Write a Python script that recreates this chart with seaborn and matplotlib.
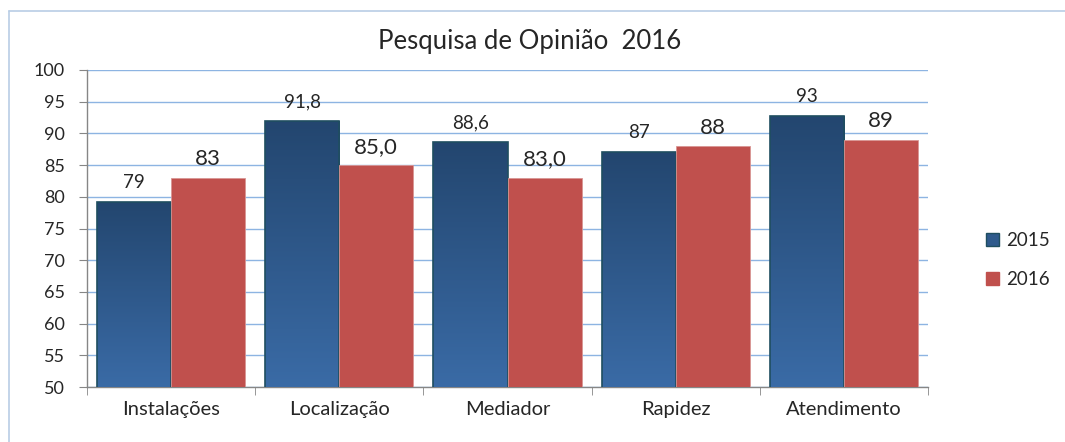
import numpy as np
import pandas as pd
import matplotlib
matplotlib.use("Agg")
import matplotlib.pyplot as plt
from matplotlib.patches import Patch
from matplotlib.lines import Line2D
from matplotlib.colors import LinearSegmentedColormap
import seaborn as sns

# data
categorias = ["Instalações", "Localização", "Mediador", "Rapidez", "Atendimento"]
valores_2015 = [79.2, 91.95, 88.6, 87.0, 92.8]
valores_2016 = [83.0, 85.0, 83.0, 88.0, 89.0]
rotulos_2015 = ["79", "91,8", "88,6", "87", "93"]
rotulos_2016 = ["83", "85,0", "83,0", "88", "89"]
anos = ["2015", "2016"]

df = pd.DataFrame({
    "categoria": categorias * 2,
    "valor": valores_2015 + valores_2016,
    "ano": [anos[0]] * 5 + [anos[1]] * 5,
})

sns.set_style("white")
plt.rcParams["font.family"] = ["Lato", "DejaVu Sans"]

fig = plt.figure(figsize=(10.65, 4.42), dpi=100)
ax = fig.add_axes([87 / 1065, 1 - 387 / 442, (928 - 87) / 1065, (387 - 70) / 442])

azul = "#2F5A8C"
vermelho = "#C0504D"
sns.barplot(data=df, x="categoria", y="valor", hue="ano", palette=[azul, vermelho],
            width=0.88, gap=0, saturation=1, ax=ax, legend=False, zorder=3)

ax.set_ylim(50, 100)
ax.set_xlim(-0.5, 4.5)
ax.set_yticks(range(50, 101, 5))
ax.yaxis.grid(True, color="#8DB4E2", linewidth=1, zorder=0)
ax.set_axisbelow(True)
ax.set_xlabel("")
ax.set_ylabel("")

# gradient fill for the 2015 bars
grad = LinearSegmentedColormap.from_list("g", ["#3A6BA6", "#23466F"])
for bar in ax.containers[0]:
    x0, y0 = bar.get_x(), bar.get_y()
    w, h = bar.get_width(), bar.get_height()
    bar.set_facecolor("none")
    bar.set_edgecolor("#1F4E60")
    bar.set_linewidth(1.2)
    img = ax.imshow(np.linspace(0, 1, 256).reshape(-1, 1), cmap=grad, aspect="auto",
                    extent=[x0, x0 + w, 50, y0 + h], origin="lower", zorder=2.9)
    img.set_clip_path(bar)
for bar in ax.containers[1]:
    bar.set_edgecolor("#D99694")
    bar.set_linewidth(0.6)

ax.set_xlim(-0.5, 4.5)
ax.set_ylim(50, 100)

ax.bar_label(ax.containers[0], labels=rotulos_2015, padding=8, fontsize=13.5)
ax.bar_label(ax.containers[1], labels=rotulos_2016, padding=6, fontsize=16)

for s in ["top", "right"]:
    ax.spines[s].set_visible(False)
for s in ["left", "bottom"]:
    ax.spines[s].set_color("#868686")
    ax.spines[s].set_linewidth(1)

ax.tick_params(axis="y", labelsize=13, length=6, color="#868686", left=True, pad=10)
ax.set_xticks(range(5))
ax.set_xticklabels(categorias, fontsize=14.5)
ax.tick_params(axis="x", length=0, pad=10)
ax.set_xticks(np.arange(-0.5, 5, 1), minor=True)
ax.tick_params(axis="x", which="minor", length=6, color="#868686", bottom=True)

fig.text(530 / 1065, 1 - 42 / 442, "Pesquisa de Opinião  2016", ha="center", va="center",
         fontsize=18.5)

handles = [Patch(facecolor=azul, edgecolor="#1F4E60", label=anos[0]),
           Patch(facecolor=vermelho, edgecolor=vermelho, label=anos[1])]
fig.legend(handles=handles, loc="center left", bbox_to_anchor=(986 / 1065, 1 - 260 / 442),
           frameon=False, fontsize=13.5, handlelength=0.7, handleheight=0.7,
           handletextpad=0.35, labelspacing=1.2, borderpad=0, borderaxespad=0)

# outer chart border (only left and top edges are visible)
borda = dict(transform=fig.transFigure, color="#B9CDE5", linewidth=1.2)
fig.lines.append(Line2D([9 / 1065, 9 / 1065], [0, 1 - 11 / 442], **borda))
fig.lines.append(Line2D([9 / 1065, 1], [1 - 11 / 442, 1 - 11 / 442], **borda))

fig.savefig("out.png", dpi=100)
